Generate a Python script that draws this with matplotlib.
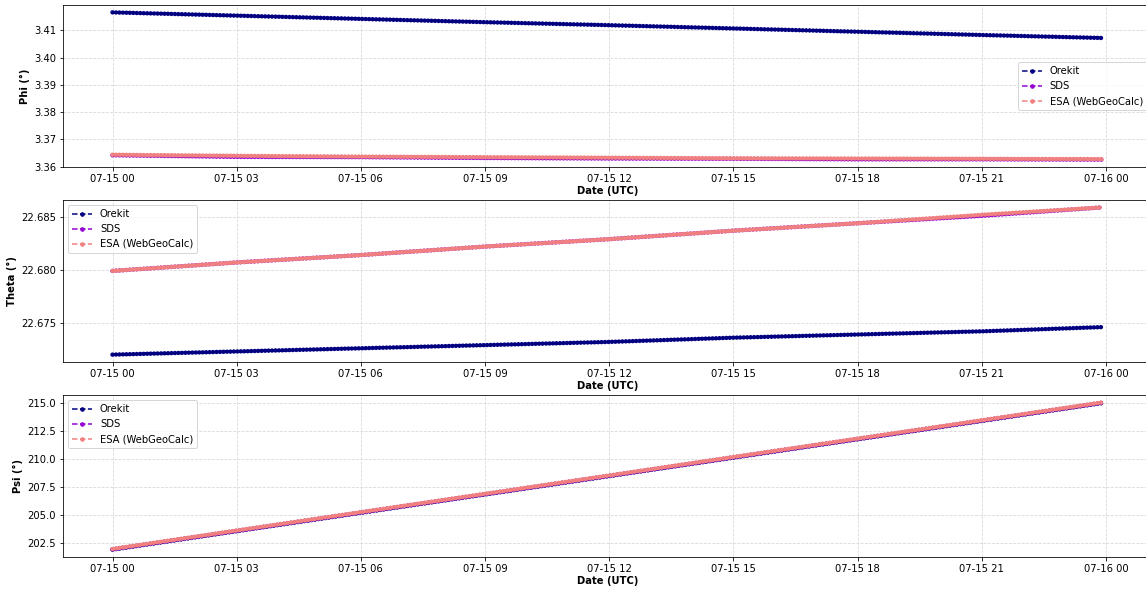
import pandas as pd
import matplotlib.pyplot as plt
import matplotlib.dates as mdates
from matplotlib.lines import Line2D
from matplotlib.ticker import MultipleLocator, FormatStrFormatter

# Sample epochs (UTC), 3-hourly readings over the day
epochs = pd.to_datetime([
    "2024-07-15 00:00", "2024-07-15 03:00", "2024-07-15 06:00",
    "2024-07-15 09:00", "2024-07-15 12:00", "2024-07-15 15:00",
    "2024-07-15 18:00", "2024-07-15 21:00", "2024-07-15 23:55",
])

# Euler angles (deg) from each source
phi_orekit = [3.4166, 3.4154, 3.4142, 3.4130, 3.4119, 3.4107, 3.4095, 3.4083, 3.4072]
phi_sds = [3.3642, 3.3636, 3.3635, 3.3632, 3.3630, 3.3629, 3.3627, 3.3627, 3.3626]
phi_esa = [3.3644, 3.3640, 3.3637, 3.3635, 3.3633, 3.3631, 3.3630, 3.3629, 3.3628]

theta_orekit = [22.6720, 22.6723, 22.6726, 22.6729, 22.6732, 22.6736, 22.6739, 22.6742, 22.6746]
theta_sds = [22.6799, 22.6807, 22.6814, 22.6822, 22.6829, 22.6837, 22.6844, 22.6851, 22.6859]
theta_esa = [22.6799, 22.6807, 22.6814, 22.6822, 22.6829, 22.6837, 22.6844, 22.6852, 22.6859]

psi_orekit = [201.89, 203.54, 205.18, 206.82, 208.46, 210.11, 211.75, 213.39, 214.99]
psi_sds = [201.92, 203.57, 205.21, 206.85, 208.49, 210.14, 211.78, 213.42, 215.02]
psi_esa = [201.95, 203.60, 205.24, 206.88, 208.52, 210.17, 211.81, 213.45, 215.05]

sources = ["Orekit", "SDS", "ESA (WebGeoCalc)"]
colors = ["navy", "darkviolet", "lightcoral"]

panels = [
    ("Phi (°)", [phi_orekit, phi_sds, phi_esa], "center right", 0.01, "%.2f"),
    ("Theta (°)", [theta_orekit, theta_sds, theta_esa], "upper left", 0.005, "%.3f"),
    ("Psi (°)", [psi_orekit, psi_sds, psi_esa], "upper left", 2.5, "%.1f"),
]

W, H = 1146, 594
fig = plt.figure(figsize=(W / 72, H / 72), dpi=72)

# axes boxes in pixels: (left, top, right, bottom)
boxes = [(63, 5, 1152, 167), (63, 200, 1152, 362), (63, 395, 1152, 557)]

for (ylabel, series, loc, step, fmt), (l, t, r, b) in zip(panels, boxes):
    ax = fig.add_axes([l / W, (H - b) / H, (r - l) / W, (b - t) / H])
    for vals, c in zip(series, colors):
        ax.plot(epochs, vals, color=c, ls="--", lw=1.5)
        # dense chain of sample markers along the track
        ax.plot(epochs, vals, color=c, lw=4.5, ls=(0, (0.001, 0.77)),
                dash_capstyle="round")
    handles = [Line2D([], [], color=c, ls="--", lw=1.5, marker=".", ms=7)
               for c in colors]
    ax.legend(handles, sources, loc=loc, fontsize=10)
    ax.set_ylabel(ylabel, fontsize=10, fontweight="bold")
    ax.set_xlabel("Date (UTC)", fontsize=10, fontweight="bold", labelpad=2)
    ax.xaxis.set_major_locator(mdates.HourLocator(byhour=range(0, 24, 3)))
    ax.xaxis.set_major_formatter(mdates.DateFormatter("%m-%d %H"))
    ax.yaxis.set_major_locator(MultipleLocator(step))
    ax.yaxis.set_major_formatter(FormatStrFormatter(fmt))
    ax.tick_params(labelsize=10)
    ax.grid(True, ls="--", color="lightgray", alpha=0.9)

fig.savefig("out.png", dpi=72)
